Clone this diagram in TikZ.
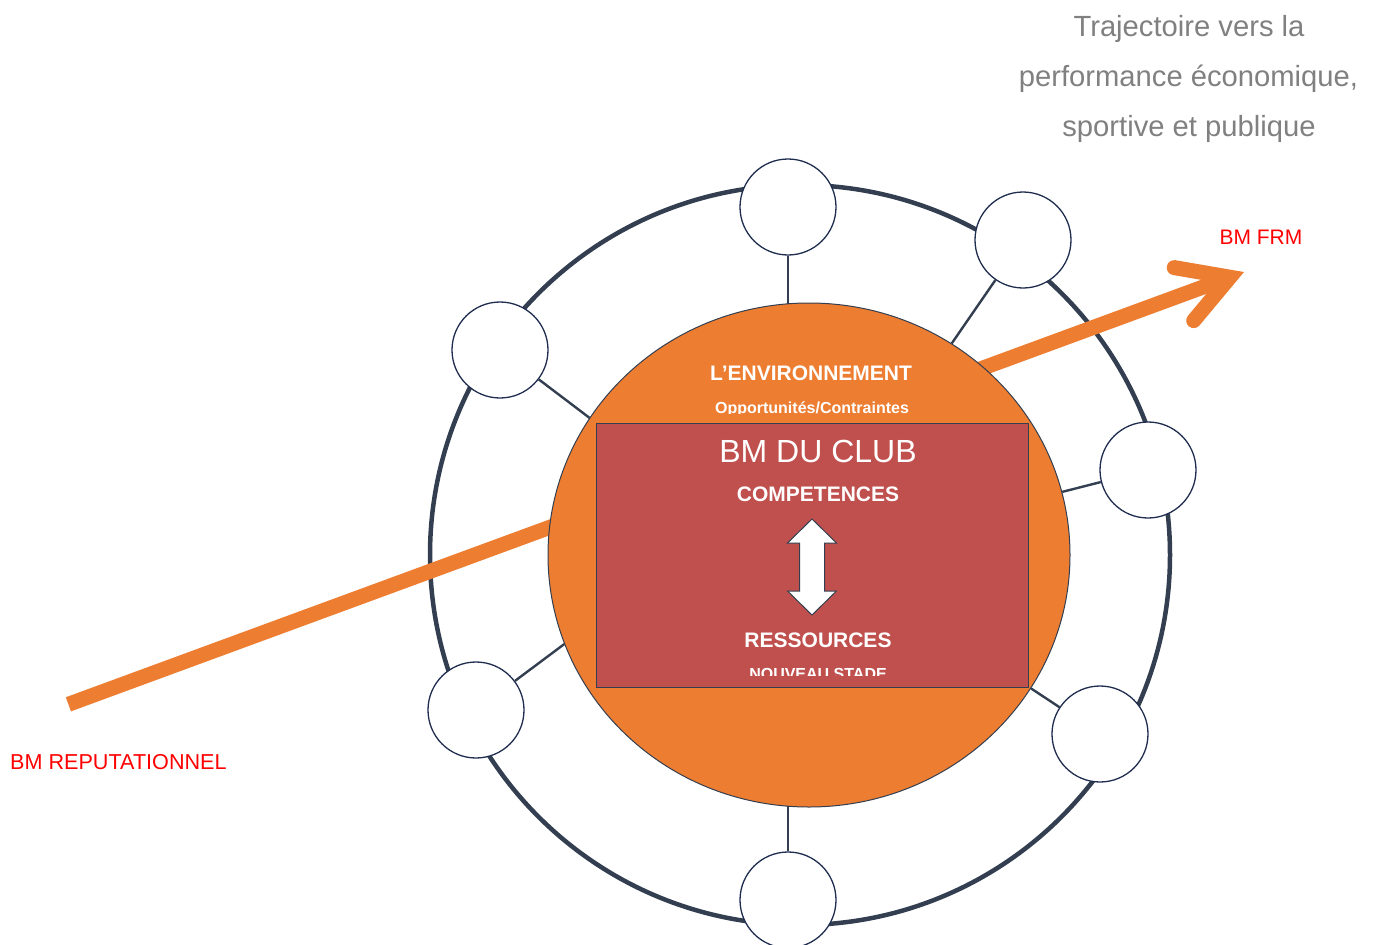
\documentclass[tikz,border=0pt]{standalone}
\usepackage{fontspec}
\setmainfont{Liberation Sans}
\usetikzlibrary{shapes.geometric}
\definecolor{ringc}{HTML}{333F50}
\definecolor{navyc}{HTML}{1F2D4F}
\definecolor{orangec}{HTML}{ED7D31}
\definecolor{redbox}{HTML}{C0504D}
\definecolor{grayt}{HTML}{808080}
\definecolor{redt}{HTML}{FF0000}
\tikzset{
  smallc/.style={circle, draw=navyc, line width=1.3pt, fill=white, minimum size=96pt, inner sep=0pt},
  conn/.style={draw=ringc, line width=2.4pt},
  wtext/.style={text=white, font=\bfseries\fontsize{21}{24}\selectfont, anchor=base, inner sep=0pt},
  stext/.style={text=white, font=\bfseries\fontsize{16}{19}\selectfont, anchor=base, inner sep=0pt},
  rtext/.style={text=redt, font=\fontsize{21}{24}\selectfont, anchor=base, inner sep=0pt},
  gtext/.style={text=grayt, font=\fontsize{29.2}{34}\selectfont, anchor=base, inner sep=0pt},
  traj/.style={draw=orangec, line width=15pt}
}
\begin{document}
\begin{tikzpicture}[x=1pt,y=-1pt]
\useasboundingbox (0,0) rectangle (1377,945);
% big ring
\node[circle, draw=ringc, line width=4.5pt, minimum size=740pt, inner sep=0pt] (ring) at (800,555) {};
% small circles
\node[smallc] (c1) at (788,207) {};
\node[smallc] (c2) at (1023,240) {};
\node[smallc] (c3) at (1148,470) {};
\node[smallc] (c4) at (1100,734) {};
\node[smallc] (c5) at (788,900) {};
\node[smallc] (c6) at (476,710) {};
\node[smallc] (c7) at (500,350) {};
% trajectory arrow
\coordinate (rs) at (68.4,704.3);
\coordinate (tip) at (1229.9,277.2);
\coordinate (b1) at (1174.2,267.6);
\coordinate (b2) at (1193.7,320.6);
\draw[traj, line cap=butt] (rs) -- (tip);
\draw[traj, line cap=round, line join=miter] (b1) -- (tip) -- (b2);
% environment ellipse
\node[ellipse, draw=ringc, line width=1pt, fill=orangec, minimum width=522pt, minimum height=504pt, inner sep=0pt] (env) at (809,555) {};
% club box
\node[rectangle, draw=ringc, line width=1pt, fill=redbox, minimum width=432pt, minimum height=264pt, inner sep=0pt] (club) at (812,555) {};
% connectors
\coordinate (e1) at (788,303.8);
\coordinate (e5) at (788,806.2);
\draw[conn] (c1) -- (e1);
\draw[conn] (c2) -- (env.56.7);
\draw[conn] (c3) -- (env.14.1);
\draw[conn] (c4) -- (env.-31.3);
\draw[conn] (c5) -- (e5);
\draw[conn] (c6) -- (env.200);
\draw[conn] (c7) -- (env.148);
% texts
\node[gtext] (t1) at (1189,36) {Trajectoire vers la};
\node[gtext] (t2) at (1188.5,86) {performance économique,};
\node[gtext] (t3) at (1189,136) {sportive et publique};
\node[rtext] (frm) at (1261,244) {BM FRM};
\node[rtext, font=\fontsize{21.6}{24}\selectfont, anchor=base west] (rep) at (10,769) {BM REPUTATIONNEL};
\node[wtext] (envt) at (811,380.5) {L’ENVIRONNEMENT};
\begin{scope}
\clip (650,390) rectangle (980,413);
\node[stext] (opp) at (812,413.2) {Opportunités/Contraintes};
\end{scope}
\node[text=white, font=\fontsize{32}{36}\selectfont, anchor=base, inner sep=0pt] (bm) at (818,462.3) {BM DU CLUB};
\node[wtext] (comp) at (818,501) {COMPETENCES};
\node[wtext] (res) at (818,647.7) {RESSOURCES};
\begin{scope}
\clip (650,660) rectangle (980,675.5);
\node[stext] (ns) at (818,679.5) {NOUVEAU STADE};
\end{scope}
% double arrow
\draw[fill=white, draw=ringc, line width=1pt, line join=miter]
  (812,519) -- (836.5,543) -- (824.5,543) -- (824.5,591) -- (836.5,591) -- (812,615)
  -- (787.5,591) -- (799.5,591) -- (799.5,543) -- (787.5,543) -- cycle;
\end{tikzpicture}
\end{document}
